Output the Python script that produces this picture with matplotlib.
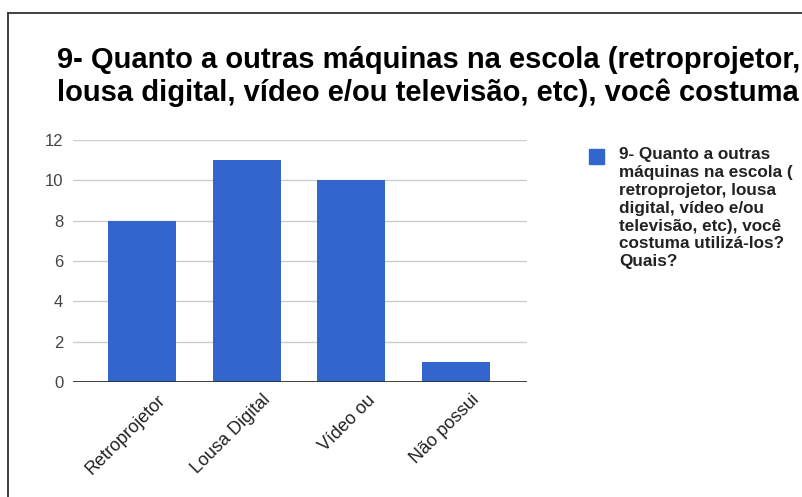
import matplotlib
matplotlib.use('Agg')
import matplotlib.pyplot as plt
from matplotlib.lines import Line2D
from matplotlib.transforms import ScaledTranslation

plt.rcParams['font.family'] = ['Liberation Sans', 'DejaVu Sans']

# data
categories = ['Retroprojetor', 'Lousa Digital', 'Vídeo ou', 'Não possui']
counts = [8, 11, 10, 1]
yticks = [0, 2, 4, 6, 8, 10, 12]

title_lines = ['9- Quanto a outras máquinas na escola (retroprojetor,',
               'lousa digital, vídeo e/ou televisão, etc), você costuma utilizá-los? Quais?']
legend_label = ('9- Quanto a outras\nmáquinas na escola (\nretroprojetor, lousa\n'
                'digital, vídeo e/ou\ntelevisão, etc), você\ncostuma utilizá-los?\nQuais?')

blue = '#3366cc'

W, H = 803, 497
fig = plt.figure(figsize=(W / 100, H / 100), dpi=100)

# outer frame (top and left edges visible)
fig.add_artist(Line2D([8 / W, 8 / W], [0, 1 - 13 / H], color='#333333', lw=1.3))
fig.add_artist(Line2D([8 / W, 1], [1 - 13 / H, 1 - 13 / H], color='#333333', lw=1.3))

# title
fig.text(57 / W, 1 - 68 / H, title_lines[0], fontsize=21, fontweight='bold',
         color='#000000', va='baseline', ha='left')
fig.text(57 / W, 1 - 101 / H, title_lines[1], fontsize=21, fontweight='bold',
         color='#000000', va='baseline', ha='left')

ax = fig.add_axes([73 / W, 1 - 382 / H, 454 / W, 242 / H])
x = range(len(categories))
ax.bar(x, counts, width=0.65, color=blue, zorder=3)

ax.set_xlim(-0.66, 3.68)
ax.set_ylim(0, 12)
ax.set_yticks(yticks)
ax.grid(axis='y', color='#cccccc', lw=1, zorder=0)
ax.axhline(0, color='#333333', lw=1.3, zorder=4)
for s in ax.spines.values():
    s.set_visible(False)

ax.tick_params(axis='y', length=0, pad=7, labelsize=12, labelcolor='#444444')
ax.tick_params(axis='x', length=0, pad=4, labelsize=13, labelcolor='#222222')
ax.set_xticks(list(x))
ax.set_xticklabels(categories, rotation=45, ha='right', rotation_mode='anchor')
for lbl in ax.get_xticklabels():
    lbl.set_transform(lbl.get_transform() + ScaledTranslation(0.15, -0.04, fig.dpi_scale_trans))

# legend
fig.patches.append(plt.Rectangle((589 / W, 1 - 164 / H), 15 / W, 15 / H,
                                 transform=fig.transFigure, color=blue))
fig.text(619 / W, 1 - 147 / H, legend_label, fontsize=12.3, fontweight='bold',
         color='#222222', va='top', ha='left', linespacing=1.24)

fig.savefig('out.png', dpi=100)
